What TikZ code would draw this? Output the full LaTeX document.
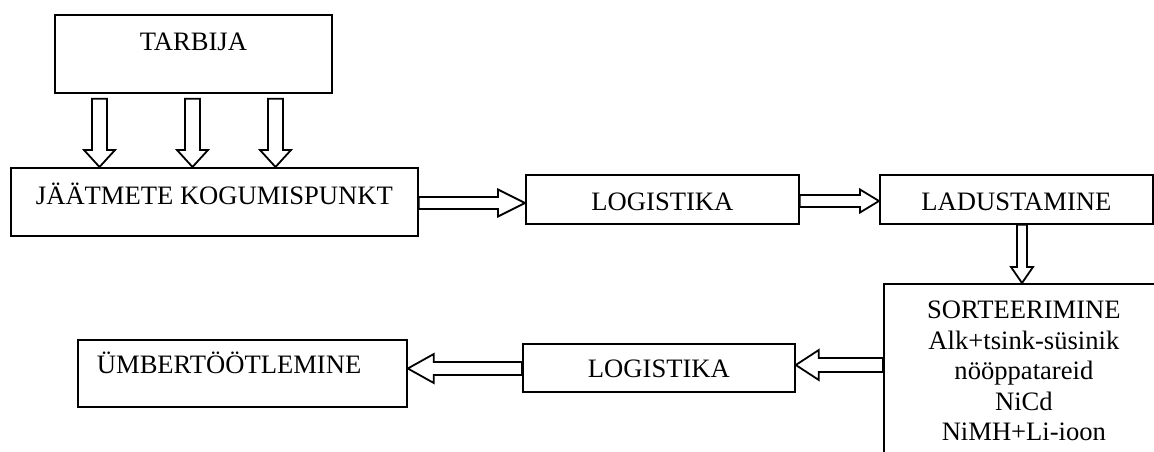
\documentclass[tikz,border=0pt]{standalone}
\usepackage{fontspec}
\setmainfont{Liberation Serif}
\usetikzlibrary{calc}
\tikzset{
  box/.style={draw, line width=1.8pt, inner sep=0pt, anchor=north west,
    font=\fontsize{26.6}{30.5}\selectfont},
  barr/.style={draw, line width=1.8pt, fill=white, line join=miter}
}
% horizontal block arrow: src, dst(tip), centre y (px), shaft half width, head half width, signed head length
\newcommand\harrow[6]{%
  \draw[barr] let \p1=(#1), \p2=(#2), \p3=(0,#3), \n1={\x2-(#6pt)} in
    (\x1,{\y3+#4pt}) -- (\n1,{\y3+#4pt}) -- (\n1,{\y3+#5pt}) -- (\x2,\y3)
    -- (\n1,{\y3-#5pt}) -- (\n1,{\y3-#4pt}) -- (\x1,{\y3-#4pt}) -- cycle;}
% vertical (downward) block arrow: src, dst(tip), centre x (px), shaft hw, head hw, head length, start gap
\newcommand\varrow[7]{%
  \draw[barr] let \p1=(#1), \p2=(#2), \p3=(#3,0) in
    ({\x3-#4pt},{\y1-#7pt}) -- ({\x3-#4pt},{\y2+#6pt}) -- ({\x3-#5pt},{\y2+#6pt}) -- (\x3,\y2)
    -- ({\x3+#5pt},{\y2+#6pt}) -- ({\x3+#4pt},{\y2+#6pt}) -- ({\x3+#4pt},{\y1-#7pt}) -- cycle;}
\begin{document}
\begin{tikzpicture}[x=1pt,y=-1pt]
\useasboundingbox (0,0) rectangle (1154,452);
\clip (0,0) rectangle (1154,452);

\node[box, minimum width=277pt, text height=36pt, text depth=42pt] (tarb) at (54,14) {TARBIJA};
\node[box, minimum width=407pt, text height=37pt, text depth=31pt] (jaat) at (10,167) {JÄÄTMETE KOGUMISPUNKT};
\node[box, minimum width=273pt, text height=36pt, text depth=13pt] (log1) at (525,174) {LOGISTIKA};
\node[box, minimum width=273pt, text height=36pt, text depth=13pt] (lad) at (879,174) {LADUSTAMINE};
\node[box, minimum width=280pt, text height=35pt, text depth=152pt] (sort) at (883,283)
  {\begin{tabular}[t]{@{}c@{}}SORTEERIMINE\\Alk+tsink-süsinik\\nööppatareid\\NiCd\\NiMH+Li-ioon\end{tabular}};
\node[box, minimum width=272pt, text height=34pt, text depth=14pt] (log2) at (522,343) {LOGISTIKA};
\node[box, inner xsep=19pt, text height=34pt, text depth=33pt] (umb) at (77,339)
  {\hbox to 291pt{ÜMBERTÖÖTLEMINE\hfil}};

\varrow{tarb.south}{jaat.north}{99.5}{7.5}{15.5}{17}{5}
\varrow{tarb.south}{jaat.north}{192.5}{7.5}{15.5}{17}{5}
\varrow{tarb.south}{jaat.north}{275.5}{7.5}{15.5}{17}{5}
\harrow{jaat.east}{log1.west}{203}{6}{13.5}{27}
\harrow{log1.east}{lad.west}{201}{6}{11.5}{19}
\varrow{lad.south}{sort.north}{1022}{5}{11}{16}{0}
\harrow{sort.west}{log2.east}{365}{7}{15}{-23}
\harrow{log2.west}{umb.east}{368.5}{6.5}{14.5}{-26}
\end{tikzpicture}
\end{document}
